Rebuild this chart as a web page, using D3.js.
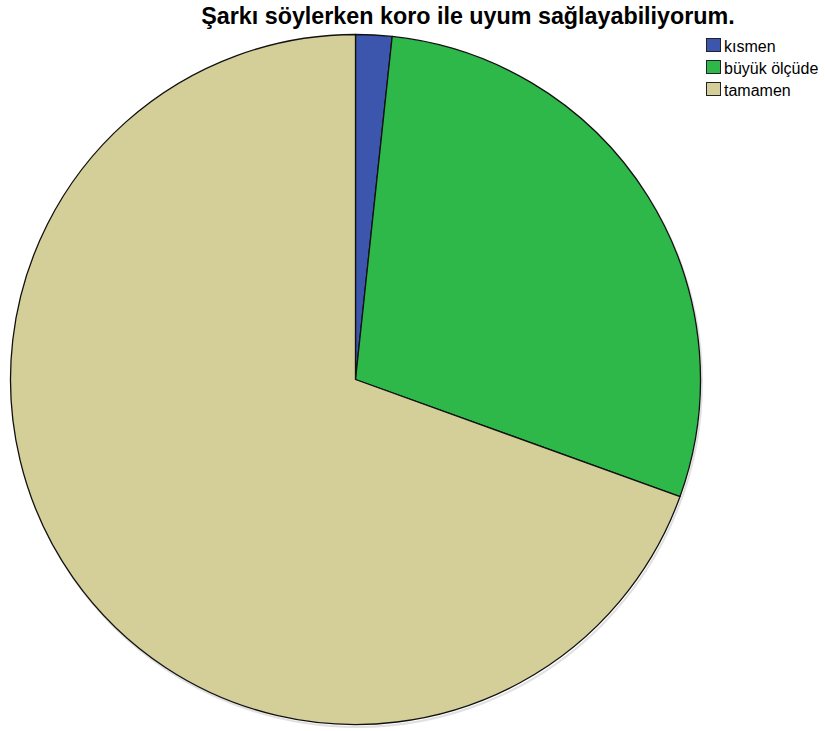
<!DOCTYPE html>
<html>
<head>
<meta charset="utf-8">
<script src="https://cdn.jsdelivr.net/npm/d3@7"></script>
<style>
  html, body { margin: 0; padding: 0; background: #fff; }
  svg { display: block; }
</style>
</head>
<body>
<svg id="chart" width="825" height="731"></svg>
<script>
// Response counts per answer category
const categories = ["kısmen", "büyük ölçüde", "tamamen"];
const counts = [1, 17, 41];
const colors = ["#3d56ad", "#2fb84a", "#d4ce98"];
const title = "Şarkı söylerken koro ile uyum sağlayabiliyorum.";

const svg = d3.select("#chart");
const cx = 355.5, cy = 379.5, r = 345;

svg.append("text")
  .attr("x", 468).attr("y", 24)
  .attr("text-anchor", "middle")
  .attr("font-family", "Liberation Sans, Arial, sans-serif")
  .attr("font-weight", "bold")
  .attr("font-size", 23.3)
  .attr("fill", "#000")
  .text(title);

const pie = d3.pie().sort(null).value(d => d)(counts);
const arc = d3.arc().innerRadius(0).outerRadius(r);

const g = svg.append("g").attr("transform", `translate(${cx},${cy})`);

// soft drop shadow under the pie rim
g.append("circle").attr("r", r).attr("cx", 1.5).attr("cy", 2.5)
  .attr("fill", "none").attr("stroke", "#ccc").attr("stroke-width", 2)
  .attr("opacity", 0.6);

g.selectAll("path.slice")
  .data(pie)
  .join("path")
  .attr("class", "slice")
  .attr("d", arc)
  .attr("fill", (d, i) => colors[i])
  .attr("stroke", "#111")
  .attr("stroke-width", 1.3)
  .attr("stroke-linejoin", "round");

const legend = svg.append("g").attr("transform", "translate(706,38)");
const items = legend.selectAll("g").data(categories).join("g")
  .attr("transform", (d, i) => `translate(0,${i * 22})`);
items.append("rect")
  .attr("x", 0.5).attr("y", 0.5)
  .attr("width", 14).attr("height", 13)
  .attr("fill", (d, i) => colors[i])
  .attr("stroke", "#222").attr("stroke-width", 1);
items.append("text")
  .attr("x", 18).attr("y", 13.5)
  .attr("font-family", "Liberation Sans, Arial, sans-serif")
  .attr("font-size", 16)
  .attr("fill", "#000")
  .text(d => d);
</script>
</body>
</html>
